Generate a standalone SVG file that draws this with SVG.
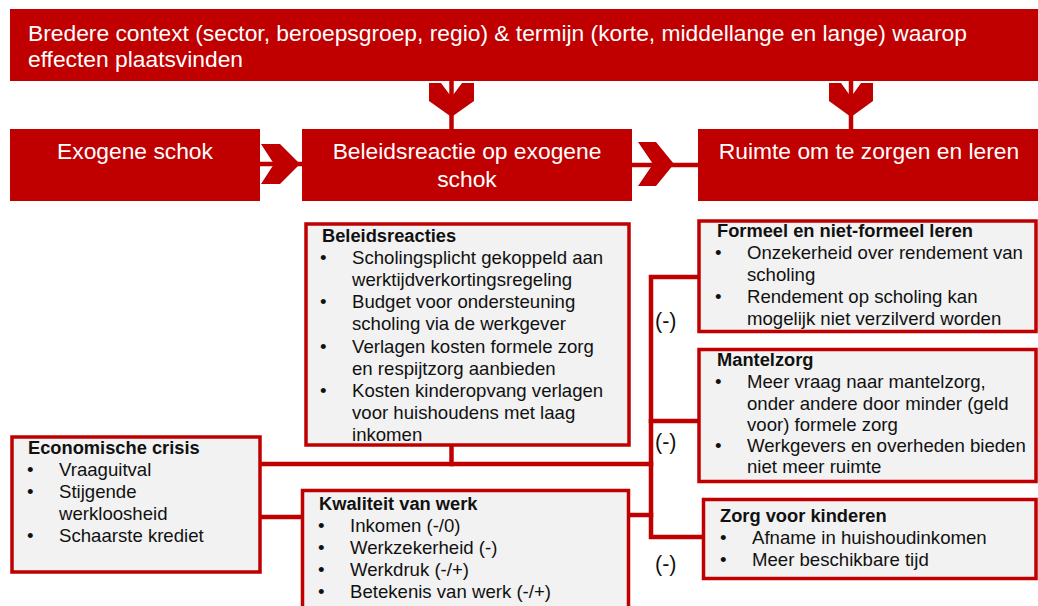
<svg xmlns="http://www.w3.org/2000/svg" width="1038" height="606" viewBox="0 0 1038 606">
<style>
.red{fill:#C00000}
.wt{fill:#fff;font-family:"Liberation Sans",Arial,sans-serif}
.box{fill:#F2F2F2;stroke:#C00000;stroke-width:3.5}
.t{font-family:"Liberation Sans",Arial,sans-serif;font-size:18.6px;fill:#111}
.h{font-weight:bold;font-size:18.3px}
.con{stroke:#C00000;stroke-width:4.5;fill:none;stroke-linecap:square}
.lbl{font-family:"Liberation Sans",Arial,sans-serif;font-size:21.5px;fill:#111}
</style>
<rect width="1038" height="606" fill="#fff"/>
<g id="connectors">
<line class="con" x1="451.5" y1="81" x2="451.5" y2="129"/>
<polygon class="red" points="429,83 441,83 451.5,97 462,83 474,83 474,101 451.5,117 429,101"/>
<line class="con" x1="851" y1="81" x2="851" y2="129"/>
<polygon class="red" points="829,83 841,83 851,97 861,83 873,83 873,101 851,117 829,101"/>
<line class="con" x1="260" y1="164" x2="302" y2="164"/>
<polygon class="red" points="261,144 280,144 300,164 280,184 261,184 274,164"/>
<line class="con" x1="632" y1="165" x2="698" y2="165"/>
<polygon class="red" points="638,142 656,142 674,164 656,186 638,186 653,164"/>
<line class="con" x1="451.5" y1="445" x2="451.5" y2="464"/>
<line class="con" x1="260" y1="464" x2="651" y2="464"/>
<polyline class="con" points="699,277 651,277 651,537 703,537"/>
<line class="con" x1="651" y1="421" x2="699" y2="421"/>
<line class="con" x1="628" y1="515" x2="651" y2="515"/>
<line class="con" x1="260" y1="517" x2="302" y2="517"/>
</g>
<g id="context">
<rect class="red" x="10" y="9" width="1028" height="72"/>
<text class="wt" font-size="22.8" x="28" y="41">Bredere context (sector, beroepsgroep, regio) &amp; termijn (korte, middellange en lange) waarop</text>
<text class="wt" font-size="22.8" x="28" y="67">effecten plaatsvinden</text>
</g>
<g id="exogene">
<rect class="red" x="10" y="129" width="250" height="72"/>
<text class="wt" font-size="22.8" x="135" y="159" text-anchor="middle">Exogene schok</text>
</g>
<g id="beleidsreactie">
<rect class="red" x="302" y="129" width="330" height="72"/>
<text class="wt" font-size="22.8" x="467" y="159" text-anchor="middle">Beleidsreactie op exogene</text>
<text class="wt" font-size="22.8" x="467" y="187" text-anchor="middle">schok</text>
</g>
<g id="ruimte">
<rect class="red" x="698" y="129" width="340" height="72"/>
<text class="wt" font-size="22.8" x="869" y="159" text-anchor="middle">Ruimte om te zorgen en leren</text>
</g>
<g id="beleidsreacties">
<rect class="box" x="306" y="224" width="323" height="221"/>
<text class="t h" x="322" y="242">Beleidsreacties</text>
<text class="t" x="320" y="264">•</text><text class="t" x="352" y="264">Scholingsplicht gekoppeld aan</text>
<text class="t" x="352" y="286">werktijdverkortingsregeling</text>
<text class="t" x="320" y="308">•</text><text class="t" x="352" y="308">Budget voor ondersteuning</text>
<text class="t" x="352" y="330">scholing via de werkgever</text>
<text class="t" x="320" y="353">•</text><text class="t" x="352" y="353">Verlagen kosten formele zorg</text>
<text class="t" x="352" y="375">en respijtzorg aanbieden</text>
<text class="t" x="320" y="397">•</text><text class="t" x="352" y="397">Kosten kinderopvang verlagen</text>
<text class="t" x="352" y="419">voor huishoudens met laag</text>
<text class="t" x="352" y="441">inkomen</text>
</g>
<g id="formeel">
<rect class="box" x="699" y="221" width="337" height="110.5"/>
<text class="t h" x="717" y="237">Formeel en niet-formeel leren</text>
<text class="t" x="715" y="259">•</text><text class="t" x="747" y="259">Onzekerheid over rendement van</text>
<text class="t" x="747" y="281">scholing</text>
<text class="t" x="715" y="303">•</text><text class="t" x="747" y="303">Rendement op scholing kan</text>
<text class="t" x="747" y="325">mogelijk niet verzilverd worden</text>
</g>
<g id="mantelzorg">
<rect class="box" x="699" y="349.5" width="337" height="132"/>
<text class="t h" x="717" y="366">Mantelzorg</text>
<text class="t" x="715" y="388">•</text><text class="t" x="747" y="388">Meer vraag naar mantelzorg,</text>
<text class="t" x="747" y="410">onder andere door minder (geld</text>
<text class="t" x="747" y="431">voor) formele zorg</text>
<text class="t" x="715" y="452">•</text><text class="t" x="747" y="452">Werkgevers en overheden bieden</text>
<text class="t" x="747" y="473">niet meer ruimte</text>
</g>
<g id="kinderen">
<rect class="box" x="703.5" y="499.5" width="332.5" height="79"/>
<text class="t h" x="720" y="522">Zorg voor kinderen</text>
<text class="t" x="720" y="544">•</text><text class="t" x="752" y="544">Afname in huishoudinkomen</text>
<text class="t" x="720" y="566">•</text><text class="t" x="752" y="566">Meer beschikbare tijd</text>
</g>
<g id="crisis">
<rect class="box" x="12" y="437" width="248" height="135"/>
<text class="t h" x="28" y="454">Economische crisis</text>
<text class="t" x="27" y="476">•</text><text class="t" x="59" y="476">Vraaguitval</text>
<text class="t" x="27" y="498">•</text><text class="t" x="59" y="498">Stijgende</text>
<text class="t" x="59" y="520">werkloosheid</text>
<text class="t" x="27" y="542">•</text><text class="t" x="59" y="542">Schaarste krediet</text>
</g>
<g id="kwaliteit">
<rect class="box" x="302.5" y="490.5" width="326" height="130"/>
<text class="t h" x="319" y="510">Kwaliteit van werk</text>
<text class="t" x="318" y="532">•</text><text class="t" x="350" y="532">Inkomen (-/0)</text>
<text class="t" x="318" y="554">•</text><text class="t" x="350" y="554">Werkzekerheid (-)</text>
<text class="t" x="318" y="576">•</text><text class="t" x="350" y="576">Werkdruk (-/+)</text>
<text class="t" x="318" y="598">•</text><text class="t" x="350" y="598">Betekenis van werk (-/+)</text>
</g>
<g id="labels">
<text class="lbl" x="655" y="328">(-)</text>
<text class="lbl" x="655" y="449">(-)</text>
<text class="lbl" x="655" y="571">(-)</text>
</g>
</svg>
